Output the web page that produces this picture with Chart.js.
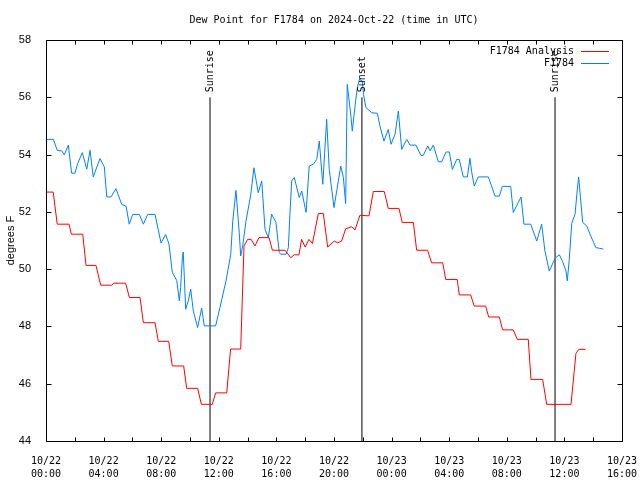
<!DOCTYPE html>
<html>
<head>
<meta charset="utf-8">
<script src="https://cdn.jsdelivr.net/npm/chart.js@4.4.1/dist/chart.umd.min.js"></script>
<style>
  html, body { margin: 0; padding: 0; background: #fff; }
  canvas { display: block; }
</style>
</head>
<body>
<canvas id="chart" width="640" height="480"></canvas>
<script>
// hours since 10/22 00:00 UTC
const analysisHours = [0.0, 0.5, 0.78, 1.6, 1.76, 2.55, 2.78, 3.47, 3.8, 4.56, 4.72, 5.53, 5.79, 6.53, 6.76, 7.57,
    7.8, 8.52, 8.77, 9.56, 9.77, 10.53, 10.79, 11.55, 11.78, 12.55, 12.82, 13.52, 13.75, 14.0, 14.24, 14.51,
    14.79, 15.49, 15.72, 16.6, 17.0, 17.24, 17.57, 17.75, 18.0, 18.26, 18.5, 18.91, 19.26, 19.56, 20.02, 20.26,
    20.53, 20.81, 21.23, 21.46, 21.8, 22.43, 22.73, 23.49, 23.77, 24.51, 24.74, 25.51, 25.74, 26.5, 26.78, 27.55,
    27.76, 28.56, 28.7, 29.49, 29.74, 30.53, 30.74, 31.48, 31.71, 32.45, 32.73, 33.49, 33.68, 34.49, 34.77, 36.46,
    36.67, 36.8, 37.0, 37.48];
const analysisValues = [52.69, 52.69, 51.57, 51.57, 51.22, 51.22, 50.13, 50.13, 49.44, 49.44, 49.51, 49.51, 49.01, 49.01, 48.13, 48.13,
    47.48, 47.48, 46.62, 46.62, 45.84, 45.84, 45.28, 45.28, 45.68, 45.68, 47.21, 47.21, 50.81, 51.04, 51.04, 50.81,
    51.1, 51.1, 50.66, 50.66, 50.4, 50.5, 50.5, 51.04, 50.77, 51.04, 50.89, 51.94, 51.94, 50.77, 50.98, 50.92,
    50.98, 51.41, 51.48, 51.37, 51.88, 51.86, 52.71, 52.71, 52.12, 52.12, 51.63, 51.63, 50.66, 50.66, 50.22, 50.22,
    49.64, 49.64, 49.1, 49.1, 48.71, 48.71, 48.33, 48.33, 47.88, 47.88, 47.55, 47.55, 46.15, 46.15, 45.28, 45.28,
    46.38, 47.05, 47.2, 47.2];

const obsHours = [0.0, 0.51, 0.78, 1.09, 1.27, 1.55, 1.78, 2.01, 2.2, 2.52, 2.83, 3.06, 3.28, 3.75, 4.05, 4.22,
    4.51, 4.86, 5.26, 5.56, 5.78, 6.02, 6.48, 6.76, 7.06, 7.57, 7.99, 8.31, 8.54, 8.77, 9.08, 9.26,
    9.35, 9.47, 9.53, 9.7, 9.88, 10.05, 10.23, 10.53, 10.81, 10.99, 11.78, 12.08, 12.5, 12.83, 12.97, 13.19,
    13.42, 13.52, 13.66, 13.89, 14.22, 14.44, 14.74, 14.98, 15.21, 15.44, 15.67, 15.97, 16.2, 16.3, 16.67, 16.83,
    16.94, 17.06, 17.24, 17.59, 17.76, 17.99, 18.06, 18.28, 18.56, 18.8, 18.98, 19.22, 19.49, 19.67, 20.0, 20.47,
    20.65, 20.81, 20.92, 21.16, 21.27, 21.46, 21.62, 21.76, 21.97, 22.05, 22.22, 22.62, 23.01, 23.19, 23.47, 23.77,
    23.96, 24.24, 24.47, 24.7, 25.05, 25.28, 25.69, 26.04, 26.2, 26.51, 26.67, 26.9, 27.24, 27.48, 27.78, 28.01,
    28.22, 28.52, 28.7, 28.98, 29.26, 29.44, 29.56, 29.74, 30.02, 30.72, 31.18, 31.48, 31.69, 32.27, 32.45, 32.99,
    33.19, 33.66, 34.08, 34.42, 34.65, 34.95, 35.35, 35.65, 35.88, 36.11, 36.2, 36.34, 36.51, 36.74, 36.9, 36.99,
    37.27, 37.55, 37.83, 38.19, 38.42, 38.7];
const obsValues = [54.53, 54.53, 54.15, 54.13, 53.99, 54.33, 53.35, 53.35, 53.69, 54.07, 53.49, 54.15, 53.22, 53.86, 53.57, 52.52,
    52.52, 52.81, 52.26, 52.2, 51.57, 51.91, 51.91, 51.57, 51.91, 51.91, 50.91, 51.21, 50.88, 49.89, 49.6, 48.89,
    49.36, 50.41, 50.6, 48.6, 48.89, 49.3, 48.54, 47.96, 48.64, 48.02, 48.02, 48.66, 49.59, 50.52, 51.68, 52.75,
    51.27, 50.46, 50.81, 51.68, 52.61, 53.54, 52.67, 53.08, 51.39, 51.1, 51.92, 51.63, 50.58, 50.52, 50.52, 50.75,
    51.92, 53.08, 53.2, 52.5, 52.73, 52.15, 51.98, 53.6, 53.66, 53.83, 54.47, 52.96, 55.23, 53.48, 52.15, 53.6,
    53.2, 52.29, 56.45, 55.41, 54.82, 55.69, 56.33, 56.62, 56.57, 56.1, 55.64, 55.46, 55.44, 55.0, 54.47, 54.88,
    54.36, 54.71, 55.52, 54.18, 54.53, 54.33, 54.33, 53.97, 53.97, 54.3, 54.13, 54.33, 53.75, 53.75, 54.09, 54.09,
    53.48, 53.83, 53.83, 53.22, 53.22, 53.87, 53.4, 52.9, 53.22, 53.22, 52.55, 52.55, 52.89, 52.89, 51.98, 52.52,
    51.57, 51.57, 50.98, 51.57, 50.63, 49.93, 50.38, 50.5, 50.26, 49.93, 49.59, 50.35, 51.6, 51.92, 52.8, 53.22,
    51.63, 51.51, 51.16, 50.75, 50.73, 50.7];

const eventHours = [11.39, 21.94, 35.35];
const eventLabels = ['Sunrise', 'Sunset', 'Sunrise'];

const xTickLabels = [['10/22', '00:00'], ['10/22', '04:00'], ['10/22', '08:00'], ['10/22', '12:00'],
    ['10/22', '16:00'], ['10/22', '20:00'], ['10/23', '00:00'], ['10/23', '04:00'], ['10/23', '08:00'],
    ['10/23', '12:00'], ['10/23', '16:00']];

const titleText = 'Dew Point for F1784 on 2024-Oct-22 (time in UTC)';
const mono = '"DejaVu Sans Mono", monospace';
const sans = '"Liberation Sans", Arial, sans-serif';

function toPoints(xs, ys) {
    return xs.map((x, i) => ({x: x, y: ys[i]}));
}

let datasets = [
    {label: 'F1784 Analysis', data: toPoints(analysisHours, analysisValues), borderColor: '#ff0000',
        borderWidth: 1, pointRadius: 0, tension: 0, fill: false},
    {label: 'F1784', data: toPoints(obsHours, obsValues), borderColor: '#0080ff',
        borderWidth: 1, pointRadius: 0, tension: 0, fill: false},
];
for (let i = 0; i < eventHours.length; i++) {
    datasets.push({label: eventLabels[i], data: [{x: eventHours[i], y: 44}, {x: eventHours[i], y: 56}],
        borderColor: '#000000', borderWidth: 1, pointRadius: 0, fill: false, isEvent: true});
}

// frame, inward ticks, title, event labels, legend
const decorations = {
    id: 'decorations',
    afterDraw(chart) {
        const c = chart.ctx, a = chart.chartArea;
        const xs = chart.scales.x, ys = chart.scales.y;
        const L = Math.round(a.left) + 0.5, R = Math.round(a.right) + 0.5;
        const T = Math.round(a.top) + 0.5, B = Math.round(a.bottom) + 0.5;
        c.save();
        c.strokeStyle = '#000';
        c.lineWidth = 1;
        c.beginPath();
        c.rect(L, T, R - L, B - T);
        xs.ticks.forEach(t => {
            const px = Math.round(xs.getPixelForValue(t.value)) + 0.5;
            c.moveTo(px, B); c.lineTo(px, B - 4);
            c.moveTo(px, T); c.lineTo(px, T + 4);
        });
        ys.ticks.forEach(t => {
            const py = Math.round(ys.getPixelForValue(t.value)) + 0.5;
            c.moveTo(L, py); c.lineTo(L + 5, py);
            c.moveTo(R, py); c.lineTo(R - 5, py);
        });
        c.stroke();

        c.fillStyle = '#000';
        c.font = '10px ' + mono;
        c.textAlign = 'center';
        c.textBaseline = 'middle';
        c.fillText(titleText, (a.left + a.right) / 2, 20);

        for (let i = 0; i < eventHours.length; i++) {
            const px = Math.round(xs.getPixelForValue(eventHours[i])) + 0.5;
            const py = ys.getPixelForValue(56) - 5;
            c.save();
            c.translate(px, py);
            c.rotate(-Math.PI / 2);
            c.textAlign = 'left';
            c.textBaseline = 'middle';
            c.fillText(eventLabels[i], 0, 0);
            c.restore();
        }

        c.textAlign = 'right';
        chart.data.datasets.filter(d => !d.isEvent).forEach((d, i) => {
            const y = a.top + 11 + i * 12;
            c.fillStyle = '#000';
            c.fillText(d.label, a.right - 48, y);
            c.strokeStyle = d.borderColor;
            c.beginPath();
            c.moveTo(a.right - 41, Math.round(y) + 0.5);
            c.lineTo(a.right - 13, Math.round(y) + 0.5);
            c.stroke();
        });
        c.restore();
    }
};

const ctx = document.getElementById('chart');
let mainChart = new Chart(ctx, {
    type: 'line',
    data: {datasets: datasets},
    options: {
        responsive: false,
        animation: false,
        layout: {padding: {left: 0, top: 40, right: 18, bottom: 0}},
        plugins: {
            legend: {display: false},
            title: {display: false},
            tooltip: {enabled: false},
        },
        scales: {
            x: {
                type: 'linear',
                min: 0,
                max: 40,
                grid: {display: false},
                border: {display: false},
                ticks: {
                    stepSize: 2,
                    autoSkip: false,
                    maxRotation: 0,
                    padding: 6,
                    color: '#000',
                    font: {family: mono, size: 10, lineHeight: 1.3},
                    callback: function (value) {
                        return value % 4 === 0 ? xTickLabels[value / 4] : '';
                    },
                },
                afterFit: function (scale) {
                    scale.height = 39;
                    scale.paddingLeft = 0;
                    scale.paddingRight = 0;
                },
            },
            y: {
                min: 44,
                max: 58,
                grid: {display: false},
                border: {display: false},
                ticks: {
                    stepSize: 2,
                    padding: 7,
                    color: '#000',
                    font: {family: sans, size: 11},
                },
                title: {
                    display: true,
                    text: 'degrees F',
                    color: '#000',
                    padding: {top: 4, bottom: 4},
                    font: {family: sans, size: 11},
                },
                afterFit: function (scale) {
                    scale.width = 46;
                    scale.paddingTop = 0;
                    scale.paddingBottom = 0;
                },
            },
        },
    },
    plugins: [decorations],
});
</script>
</body>
</html>
